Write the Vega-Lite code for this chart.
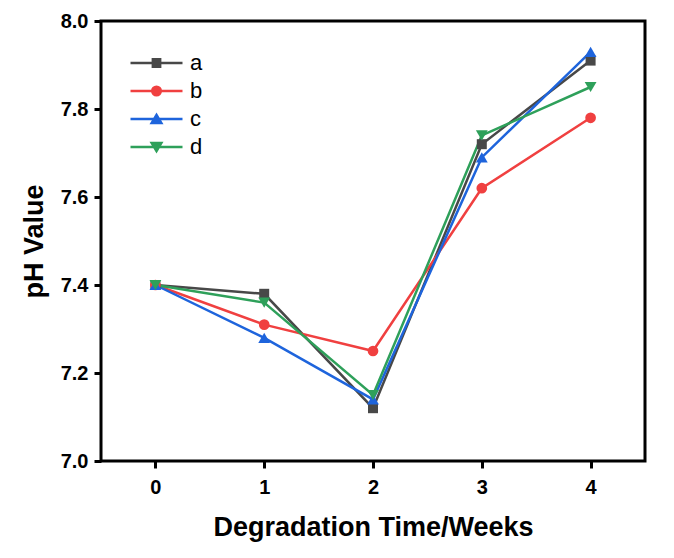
{
  "$schema": "https://vega.github.io/schema/vega-lite/v6.json",
  "width": 544,
  "height": 440,
  "autosize": {"type": "none"},
  "padding": {"left": 101, "top": 21, "right": 29, "bottom": 97},
  "background": "white",
  "config": {
    "font": "Liberation Sans",
    "view": {"stroke": "black", "strokeWidth": 3},
    "axis": {
      "grid": false,
      "domain": false,
      "tickColor": "black",
      "tickWidth": 3,
      "tickSize": 7,
      "labelFont": "Liberation Sans",
      "labelFontSize": 20,
      "labelFontWeight": "bold",
      "labelColor": "black",
      "titleFont": "Liberation Sans",
      "titleFontSize": 27,
      "titleFontWeight": "bold",
      "titleColor": "black"
    },
    "legend": {"labelFontSize": 22, "labelFont": "Liberation Sans", "labelColor": "black"}
  },
  "data": {
    "values": [
      {"sample": "a", "week": 0, "ph": 7.40},
      {"sample": "a", "week": 1, "ph": 7.38},
      {"sample": "a", "week": 2, "ph": 7.12},
      {"sample": "a", "week": 3, "ph": 7.72},
      {"sample": "a", "week": 4, "ph": 7.91},
      {"sample": "b", "week": 0, "ph": 7.40},
      {"sample": "b", "week": 1, "ph": 7.31},
      {"sample": "b", "week": 2, "ph": 7.25},
      {"sample": "b", "week": 3, "ph": 7.62},
      {"sample": "b", "week": 4, "ph": 7.78},
      {"sample": "c", "week": 0, "ph": 7.40},
      {"sample": "c", "week": 1, "ph": 7.28},
      {"sample": "c", "week": 2, "ph": 7.14},
      {"sample": "c", "week": 3, "ph": 7.69},
      {"sample": "c", "week": 4, "ph": 7.93},
      {"sample": "d", "week": 0, "ph": 7.40},
      {"sample": "d", "week": 1, "ph": 7.36},
      {"sample": "d", "week": 2, "ph": 7.15},
      {"sample": "d", "week": 3, "ph": 7.74},
      {"sample": "d", "week": 4, "ph": 7.85}
    ]
  },
  "encoding": {
    "x": {
      "field": "week",
      "type": "quantitative",
      "scale": {"domain": [-0.5, 4.5], "nice": false, "zero": false},
      "axis": {"values": [0, 1, 2, 3, 4], "format": "d", "title": "Degradation Time/Weeks", "labelPadding": 9, "titlePadding": 17}
    },
    "y": {
      "field": "ph",
      "type": "quantitative",
      "scale": {"domain": [7.0, 8.0], "nice": false, "zero": false},
      "axis": {"values": [7.0, 7.2, 7.4, 7.6, 7.8, 8.0], "format": ".1f", "title": "pH Value", "labelPadding": 6, "titlePadding": 12}
    },
    "color": {
      "field": "sample",
      "type": "nominal",
      "scale": {"domain": ["a", "b", "c", "d"], "range": ["#484848", "#f04040", "#1e64dc", "#2ea05a"]},
      "legend": {
        "orient": "top-left",
        "offset": 28,
        "padding": 0,
        "title": null,
        "symbolSize": 2704,
        "clipHeight": 28,
        "rowPadding": 0,
        "labelFontSize": 22,
        "labelOffset": 6,
        "symbolStrokeWidth": 2.5,
        "encode": {
          "symbols": {
            "update": {
              "shape": {"signal": "datum.value === 'a' ? 'M-1,0H1M-0.14,-0.14H0.14V0.14H-0.14Z' : datum.value === 'b' ? 'M-1,0H1M-0.165,0A0.165,0.165,0,1,0,0.165,0A0.165,0.165,0,1,0,-0.165,0Z' : datum.value === 'c' ? 'M-1,0H1M0,-0.16L0.185,0.15H-0.185Z' : 'M-1,0H1M0,0.16L0.185,-0.15H-0.185Z'"},
              "fill": {"signal": "scale('color', datum.value)"},
              "stroke": {"signal": "scale('color', datum.value)"},
              "strokeWidth": {"value": 2.5},
              "opacity": {"value": 1},
              "size": {"value": 2704}
            }
          },
          "labels": {
            "update": {"fontSize": {"value": 22}}
          }
        }
      }
    }
  },
  "layer": [
    {"mark": {"type": "line", "strokeWidth": 2.5}},
    {
      "transform": [{"filter": "datum.sample === 'a'"}],
      "mark": {"type": "point", "filled": true, "opacity": 1, "shape": "square", "size": 100}
    },
    {
      "transform": [{"filter": "datum.sample === 'b'"}],
      "mark": {"type": "point", "filled": true, "opacity": 1, "shape": "circle", "size": 115}
    },
    {
      "transform": [{"filter": "datum.sample === 'c'"}],
      "mark": {"type": "point", "filled": true, "opacity": 1, "shape": "triangle-up", "size": 140}
    },
    {
      "transform": [{"filter": "datum.sample === 'd'"}],
      "mark": {"type": "point", "filled": true, "opacity": 1, "shape": "triangle-down", "size": 140}
    }
  ]
}
